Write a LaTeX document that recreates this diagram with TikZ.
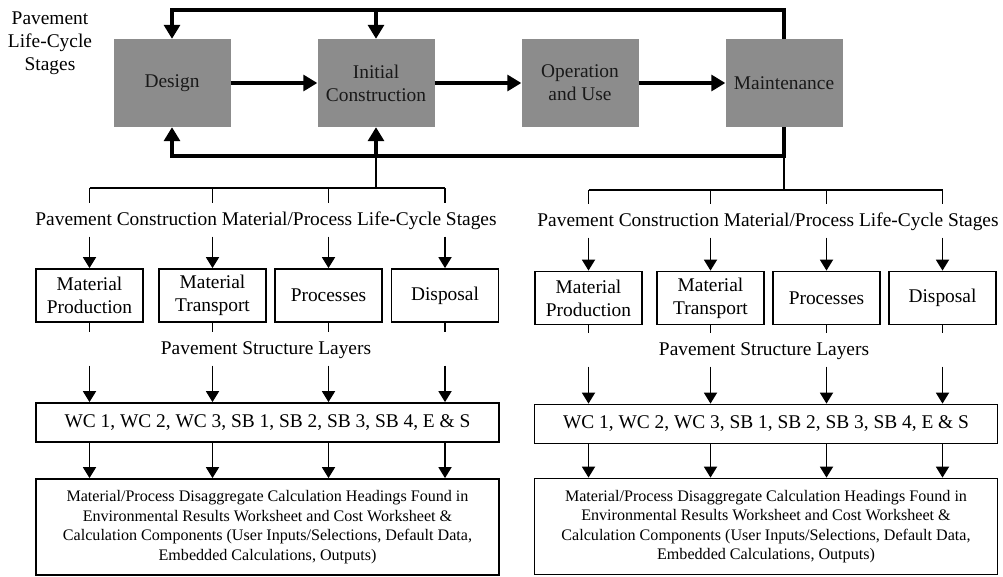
\documentclass[tikz,border=0pt]{standalone}
\usepackage{fontspec}
\setmainfont{Liberation Serif}
\usepackage{tikz}
\usetikzlibrary{arrows.meta,positioning}
\definecolor{stagegray}{RGB}{140,140,140}
\tikzset{
x=1pt, y=-1pt, % one unit is one pixel of the page, y runs down
node distance=204pt, % spacing of the life-cycle stage boxes
stage/.style={fill=stagegray, text=black!90, minimum width=117pt, minimum height=88pt, align=center, inner sep=0pt, font=\fontsize{19.4}{23}\selectfont},
loopline/.style={line width=3.2pt, -{Triangle[length=14pt,width=16pt]}},
tree/.style={line width=1.8pt, -{Triangle[length=11pt,width=13pt]}},
sub/.style={draw, line width=1.8pt, minimum width=107pt, minimum height=53pt, align=center, inner sep=0pt, font=\fontsize{19.4}{23}\selectfont},
heading/.style={text height=14pt, text depth=4pt, inner ysep=7.5pt, inner xsep=0pt, font=\fontsize{19.4}{23}\selectfont},
layers/.style={draw, line width=1.8pt, minimum width=463pt, minimum height=39pt, inner sep=0pt, font=\fontsize{19.4}{23}\selectfont},
results/.style={draw, line width=1.8pt, minimum width=463pt, minimum height=96pt, align=center, inner sep=0pt, font=\fontsize{16.1}{19.5}\selectfont},
}
\begin{document}
\begin{tikzpicture}
\useasboundingbox (0,0) rectangle (1003,576);

% life-cycle stages
\node[align=center, font=\fontsize{19.4}{23}\selectfont] (title) at (50,43) {Pavement\\Life-Cycle\\Stages};
\node[stage] (design) at (172,83) {Design};
\node[stage, right of=design] (init) {Initial\\Construction};
\node[stage, right of=init] (oper) {Operation\\and Use};
\node[stage, right of=oper] (maint) {Maintenance};
\coordinate (toprail) at (0,10);
\coordinate (botrail) at (0,156);

\draw[loopline] (design) -- (init);
\draw[loopline] (init) -- (oper);
\draw[loopline] (oper) -- (maint);
\draw[loopline] (maint.north) |- (design.north |- toprail) -- (design.north);
\draw[loopline] (init.north |- toprail) -- (init.north);
\draw[loopline] (maint.south) |- (design.south |- botrail) -- (design.south);
\draw[loopline] (init.south |- botrail) -- (init.south);

% construction branch
\coordinate (lsplit) at (init.south |- 0,188);
\node[heading] (lcms) at (266,220) {Pavement Construction Material/Process Life-Cycle Stages};
\node[sub] (lmp) at (89.5,295.5) {Material\\Production};
\node[sub] (lmt) at (212.5,295.5) {Material\\Transport};
\node[sub] (lpr) at (328.5,295.5) {Processes};
\node[sub] (ldp) at (445,295.5) {Disposal};
\node[heading] (lpsl) at (266,349) {Pavement Structure Layers};
\node[layers] (lwc) at (267.5,422.5) {WC 1, WC 2, WC 3, SB 1, SB 2, SB 3, SB 4, E \& S};
\node[results] (lres) at (267.5,527) {Material/Process Disaggregate Calculation Headings Found in\\Environmental Results Worksheet and Cost Worksheet \&\\Calculation Components (User Inputs/Selections, Default Data,\\Embedded Calculations, Outputs)};

\draw[tree,-] (init.south |- botrail) -- (lsplit) (lmp |- lsplit) -- (ldp |- lsplit)
	(lmp |- lsplit) -- (lmp |- lcms.north) (lmt |- lsplit) -- (lmt |- lcms.north)
	(lpr |- lsplit) -- (lpr |- lcms.north) (ldp |- lsplit) -- (ldp |- lcms.north)
	(lmp.south) -- (lmp |- lpsl.north) (lmt.south) -- (lmt |- lpsl.north)
	(lpr.south) -- (lpr |- lpsl.north) (ldp.south) -- (ldp |- lpsl.north);
\path[tree] (lmp |- lcms.south) edge (lmp) (lmt |- lcms.south) edge (lmt)
	(lpr |- lcms.south) edge (lpr) (ldp |- lcms.south) edge (ldp);
\path[tree] (lmp |- lpsl.south) edge (lmp |- lwc.north) (lmt |- lpsl.south) edge (lmt |- lwc.north)
	(lpr |- lpsl.south) edge (lpr |- lwc.north) (ldp |- lpsl.south) edge (ldp |- lwc.north);
\path[tree] (lmp |- lwc.south) edge (lmp |- lres.north) (lmt |- lwc.south) edge (lmt |- lres.north)
	(lpr |- lwc.south) edge (lpr |- lres.north) (ldp |- lwc.south) edge (ldp |- lres.north);

% maintenance branch
\coordinate (rsplit) at (maint.south |- 0,190);
\node[heading] (rcms) at (768,221) {Pavement Construction Material/Process Life-Cycle Stages};
\node[sub] (rmp) at (588.5,298) {Material\\Production};
\node[sub] (rmt) at (710.5,298) {Material\\Transport};
\node[sub] (rpr) at (826.5,298) {Processes};
\node[sub] (rdp) at (942.5,298) {Disposal};
\node[heading] (rpsl) at (764,350) {Pavement Structure Layers};
\node[layers] (rwc) at (766,424) {WC 1, WC 2, WC 3, SB 1, SB 2, SB 3, SB 4, E \& S};
\node[results] (rres) at (766,526.5) {Material/Process Disaggregate Calculation Headings Found in\\Environmental Results Worksheet and Cost Worksheet \&\\Calculation Components (User Inputs/Selections, Default Data,\\Embedded Calculations, Outputs)};

\draw[tree,-] (maint.south |- botrail) -- (rsplit) (rmp |- rsplit) -- (rdp |- rsplit)
	(rmp |- rsplit) -- (rmp |- rcms.north) (rmt |- rsplit) -- (rmt |- rcms.north)
	(rpr |- rsplit) -- (rpr |- rcms.north) (rdp |- rsplit) -- (rdp |- rcms.north)
	(rmp.south) -- (rmp |- rpsl.north) (rmt.south) -- (rmt |- rpsl.north)
	(rpr.south) -- (rpr |- rpsl.north) (rdp.south) -- (rdp |- rpsl.north);
\path[tree] (rmp |- rcms.south) edge (rmp) (rmt |- rcms.south) edge (rmt)
	(rpr |- rcms.south) edge (rpr) (rdp |- rcms.south) edge (rdp);
\path[tree] (rmp |- rpsl.south) edge (rmp |- rwc.north) (rmt |- rpsl.south) edge (rmt |- rwc.north)
	(rpr |- rpsl.south) edge (rpr |- rwc.north) (rdp |- rpsl.south) edge (rdp |- rwc.north);
\path[tree] (rmp |- rwc.south) edge (rmp |- rres.north) (rmt |- rwc.south) edge (rmt |- rres.north)
	(rpr |- rwc.south) edge (rpr |- rres.north) (rdp |- rwc.south) edge (rdp |- rres.north);
\end{tikzpicture}
\end{document}
